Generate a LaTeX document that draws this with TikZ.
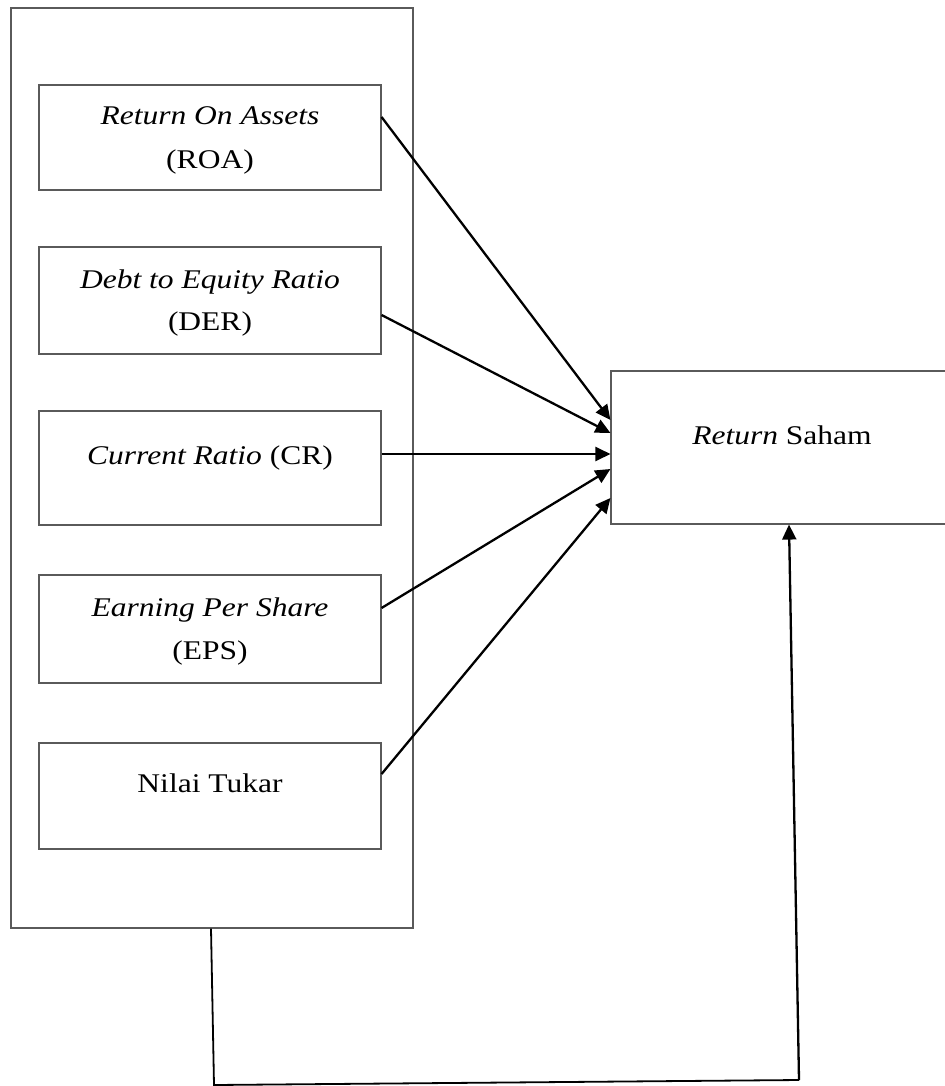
\documentclass[tikz,border=0pt]{standalone}
\usepackage{fontspec}
\setmainfont{Liberation Serif}
\usetikzlibrary{arrows.meta}
\definecolor{boxgray}{HTML}{5A5A5A}
\newcommand{\wtxt}[1]{\scalebox{1.167}[1]{#1}}
\tikzset{
  box/.style={draw=boxgray, line width=0.55pt, inner sep=0pt, fill=none},
  lbl/.style={anchor=base, inner sep=0pt, font=\fontsize{13.5}{16}\selectfont},
  arr/.style={line width=1.15pt, -{Triangle[length=7.5pt,width=7pt]}},
  link/.style={line width=0.9pt}
}
\begin{document}
\begin{tikzpicture}[x=0.5pt,y=-0.5pt]
\useasboundingbox (0,0) rectangle (945,1086);
\clip (0,0) rectangle (945,1086);
\fill[white] (0,0) rectangle (945,1086);
% outer container
\node[box, minimum width=201pt, minimum height=460pt] (outer) at (212,468) {};
% inner boxes
\node[box, minimum width=171pt, minimum height=52.5pt] (b1) at (210,137.5) {};
\node[box, minimum width=171pt, minimum height=53.5pt] (b2) at (210,300.5) {};
\node[box, minimum width=171pt, minimum height=57pt] (b3) at (210,468) {};
\node[box, minimum width=171pt, minimum height=54pt] (b4) at (210,629) {};
\node[box, minimum width=171pt, minimum height=53pt] (b5) at (210,796) {};
% target box
\node[box, minimum width=171pt, minimum height=76.5pt] (ret) at (782,447.5) {};
% texts
\node[lbl] (t1a) at (210,125) {\wtxt{\itshape Return On Assets}};
\node[lbl] (t1b) at (210,169) {\wtxt{(ROA)}};
\node[lbl] (t2a) at (210,288) {\wtxt{\itshape Debt to Equity Ratio}};
\node[lbl] (t2b) at (210,330) {\wtxt{(DER)}};
\node[lbl] (t3) at (210,464) {\wtxt{\textit{Current Ratio} (CR)}};
\node[lbl] (t4a) at (210,616) {\wtxt{\itshape Earning Per Share}};
\node[lbl] (t4b) at (210,659) {\wtxt{(EPS)}};
\node[lbl] (t5) at (210,792) {\wtxt{Nilai Tukar}};
\node[lbl] (tr) at (782,444) {\wtxt{\textit{Return} Saham}};
% arrows
\draw[arr] ([yshift=10.25pt]b1.east) -- ([yshift=13.75pt]ret.west);
\draw[arr] ([yshift=-7.25pt]b2.east) -- ([yshift=7.25pt]ret.west);
\draw[arr] ([yshift=7pt]b3.east) -- ([yshift=-3.25pt]ret.west);
\draw[arr] ([yshift=10.5pt]b4.east) -- ([yshift=-10.75pt]ret.west);
\draw[arr] ([yshift=11pt]b5.east) -- ([yshift=-25.25pt]ret.west);
% bottom connector
\coordinate (c1) at (214,1085);
\coordinate (c2) at (799,1080);
\draw[link] ([xshift=-0.5pt]outer.south) -- (c1) -- (c2);
\draw[arr] (c2) -- ([xshift=3.5pt]ret.south);
\end{tikzpicture}
\end{document}
